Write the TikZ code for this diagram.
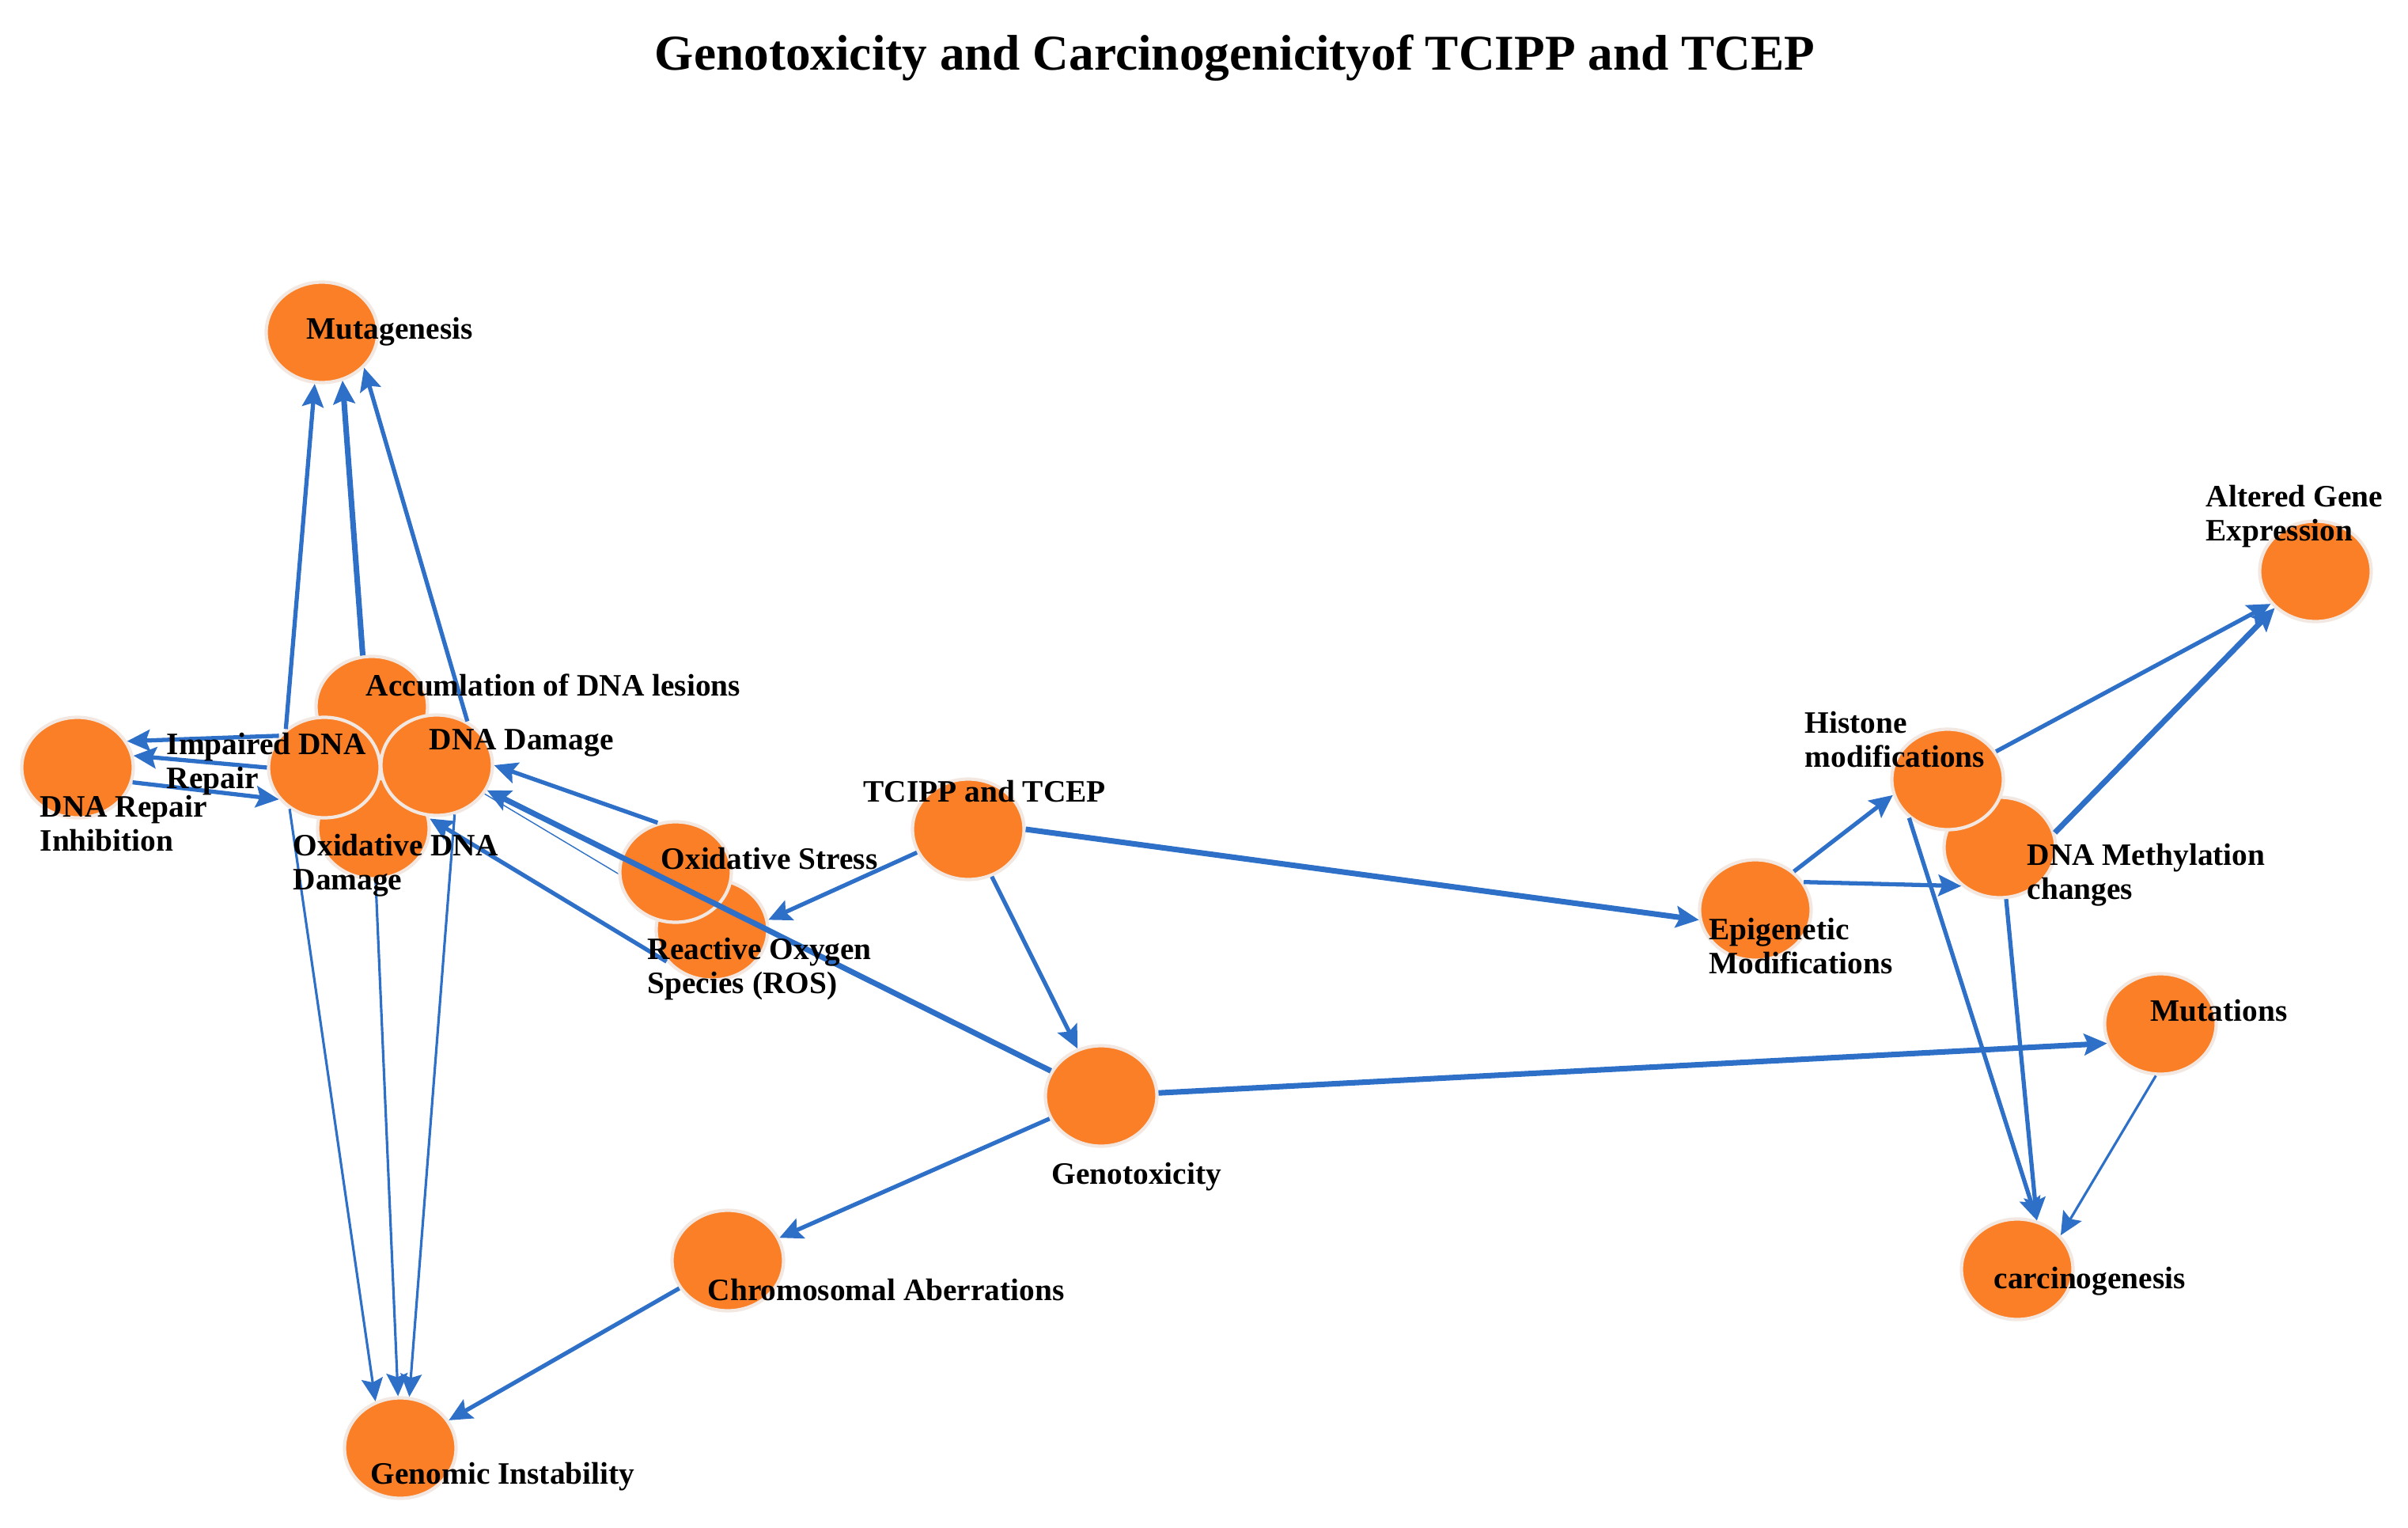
\documentclass[tikz,border=0pt]{standalone}
\usepackage{fontspec}
\setmainfont{Liberation Serif}
\usetikzlibrary{arrows.meta,shapes.geometric,backgrounds}
\definecolor{nodeorange}{RGB}{251,127,38}
\definecolor{ringgray}{RGB}{242,232,225}
\definecolor{linkblue}{RGB}{46,112,200}
\newcommand{\lblfont}{\bfseries\fontsize{11.2}{12.1}\selectfont}
\newcommand{\ttlfont}{\bfseries\fontsize{18}{21}\selectfont}

\begin{document}
\begin{tikzpicture}[>={Stealth[length=2.9mm,width=2.7mm,inset=0.5mm]},
    bubble/.style={draw=ringgray,line width=1.2pt,fill=nodeorange,ellipse,inner sep=0pt,minimum width=1.41cm,minimum height=1.27cm},
    lbl/.style={anchor=base west,inner sep=0pt,align=left,font=\lblfont},
    link/.style={->,draw=linkblue,line width=1.5pt},
    thick link/.style={link,line width=2pt},
    thin link/.style={link,line width=0.9pt},
    faint link/.style={draw=linkblue,line width=0.4pt}]
    \useasboundingbox (0,0) rectangle (30.44,-19.31);
    \node[font=\ttlfont,anchor=base] (title) at (15.61,-0.88) {Genotoxicity and Carcinogenicityof TCIPP and TCEP};

    % left cluster
    \node[bubble] (mut) at (4.07,-4.20) {};
    \node[bubble] (accum) at (4.70,-8.93) {};
    \node[bubble] (oxdna) at (4.72,-10.47) {};
    \node[bubble] (impair) at (4.10,-9.70) {};
    \node[bubble] (dnadam) at (5.52,-9.67) {};
    \node[bubble] (repinh) at (0.98,-9.70) {};
    \node[bubble] (ros) at (9.00,-11.75) {};
    \node[bubble] (oxstr) at (8.54,-11.02) {};
    \node[bubble] (tcipp) at (12.24,-10.48) {};
    \node[bubble] (geno) at (13.92,-13.85) {};
    \node[bubble] (chrom) at (9.20,-15.93) {};
    \node[bubble] (genins) at (5.06,-18.30) {};
    % right cluster
    \node[bubble] (epi) at (22.19,-11.50) {};
    \node[bubble] (meth) at (25.28,-10.71) {};
    \node[bubble] (hist) at (24.62,-9.85) {};
    \node[bubble] (altered) at (29.27,-7.22) {};
    \node[bubble] (mutat) at (27.31,-12.94) {};
    \node[bubble] (carc) at (25.50,-16.04) {};

    \begin{scope}[on background layer]
    \draw[faint link] (dnadam) to (ros);
    \draw[thin link] (oxdna) to (mut.293);
    \end{scope}

    \draw[thick link] (tcipp.east) to (epi.190);
    \draw[link] (tcipp) to (geno);
    \draw[link] (tcipp) to (ros.10);
    \draw[thick link] (geno) to (mutat.200);
    \draw[link] (geno) to (chrom);
    \draw[thick link] (geno) to (dnadam);
    \draw[link] (oxstr.110) to (dnadam.east);
    \draw[link] (ros.215) to (oxdna.10);
    \draw[link] (chrom) to (genins);
    \draw[thick link] (accum.100) to (mut.293);
    \draw[link] (impair.135) to (mut.262);
    \draw[link] (dnadam.55) to (mut.320);
    \draw[link] (impair.145) to (repinh.28);
    \draw[link] (impair.west) to (repinh.12);
    \draw[link] (repinh.-15) to (impair.215);
    \draw[thin link] (impair.230) to (genins.118);
    \draw[thin link] (oxdna) to (genins);
    \draw[thin link] (dnadam.290) to (genins.80);
    \draw[link] (epi.30) to (meth.225);
    \draw[link] (epi.45) to (hist.196);
    \draw[link] (hist.30) to (altered.216);
    \draw[thick link] (meth.15) to (altered.222);
    \draw[link] (hist.225) to (carc.68);
    \draw[link] (meth.277) to (carc.68);
    \draw[thin link] (mutat.265) to (carc.38);

    \node[lbl] (mutlabel) at (3.87,-4.28) {Mutagenesis};
    \node[lbl] (accumlabel) at (4.62,-8.79) {Accumlation of DNA lesions};
    \node[lbl] (impairlabel) at (2.10,-9.96) {Impaired DNA\\Repair};
    \node[lbl] (dnadamlabel) at (5.42,-9.47) {DNA Damage};
    \node[lbl] (repinhlabel) at (0.50,-10.75) {DNA Repair\\Inhibition};
    \node[lbl] (oxdnalabel) at (3.70,-11.24) {Oxidative DNA\\Damage};
    \node[lbl] (oxstrlabel) at (8.35,-10.98) {Oxidative Stress};
    \node[lbl] (roslabel) at (8.18,-12.55) {Reactive Oxygen\\Species (ROS)};
    \node[lbl] (tcipplabel) at (10.91,-10.13) {TCIPP and TCEP};
    \node[lbl] (genolabel) at (13.29,-14.96) {Genotoxicity};
    \node[lbl] (chromlabel) at (8.94,-16.43) {Chromosomal Aberrations};
    \node[lbl] (geninslabel) at (4.68,-18.75) {Genomic Instability};
    \node[lbl] (epilabel) at (21.60,-12.30) {Epigenetic\\Modifications};
    \node[lbl] (histlabel) at (22.81,-9.69) {Histone\\modifications};
    \node[lbl] (methlabel) at (25.62,-11.36) {DNA Methylation\\changes};
    \node[lbl] (alteredlabel) at (27.88,-6.83) {Altered Gene\\Expression};
    \node[lbl] (mutatlabel) at (27.18,-12.90) {Mutations};
    \node[lbl] (carclabel) at (25.20,-16.28) {carcinogenesis};
\end{tikzpicture}
\end{document}
